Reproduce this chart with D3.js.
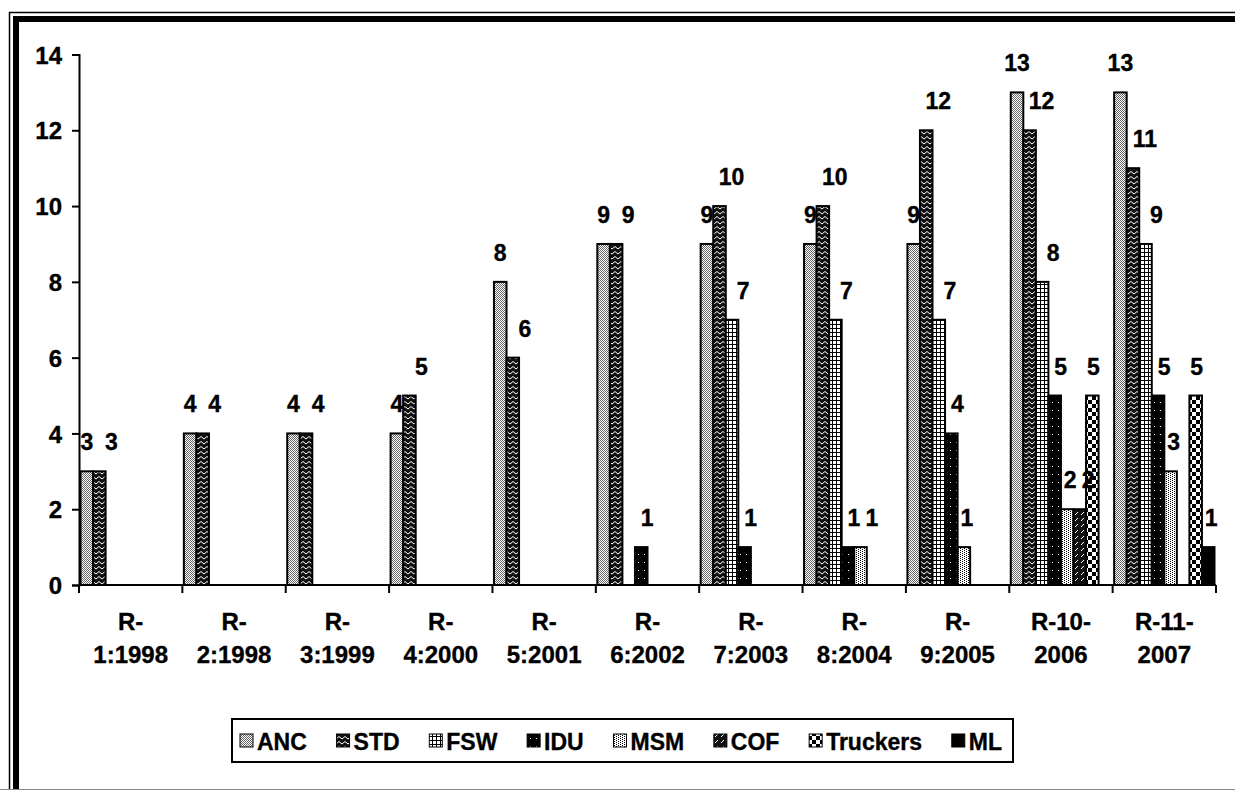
<!DOCTYPE html>
<html><head><meta charset="utf-8">
<script src="https://cdn.jsdelivr.net/npm/d3@7"></script>
<style>
html,body{margin:0;padding:0;background:#fff;}
svg text{font-family:"Liberation Sans",Arial,sans-serif;font-weight:bold;fill:#000;stroke:#000;stroke-width:0.35px;}
</style></head>
<body>
<svg id="chart" width="1235" height="790"></svg>
<script>
// ---- data ----
const categories = ["R-1:1998","R-2:1998","R-3:1999","R-4:2000","R-5:2001","R-6:2002","R-7:2003","R-8:2004","R-9:2005","R-10-2006","R-11-2007"];
const categoryLines = [["R-","1:1998"],["R-","2:1998"],["R-","3:1999"],["R-","4:2000"],["R-","5:2001"],["R-","6:2002"],["R-","7:2003"],["R-","8:2004"],["R-","9:2005"],["R-10-","2006"],["R-11-","2007"]];
const seriesNames = ["ANC","STD","FSW","IDU","MSM","COF","Truckers","ML"];
const ANC      = [3,4,4,4,8,9,9,9,9,13,13];
const STD      = [3,4,4,5,6,9,10,10,12,12,11];
const FSW      = [0,0,0,0,0,0,7,7,7,8,9];
const IDU      = [0,0,0,0,0,1,1,1,4,5,5];
const MSM      = [0,0,0,0,0,0,0,1,1,2,3];
const COF      = [0,0,0,0,0,0,0,0,0,2,0];
const Truckers = [0,0,0,0,0,0,0,0,0,5,5];
const ML       = [0,0,0,0,0,0,0,0,0,0,1];
const yTicks = [0,2,4,6,8,10,12,14];

const seriesValues = {ANC, STD, FSW, IDU, MSM, COF, Truckers, ML};

// ---- layout / style ----
const labelShift = {ANC:0, STD:12, FSW:11, IDU:6, MSM:3, COF:2, Truckers:1, ML:3};

const svg = d3.select("#chart");
const defs = svg.append("defs");

function pat(id, w, h, bg, draw){
  const p = defs.append("pattern").attr("id", id).attr("patternUnits","userSpaceOnUse")
    .attr("width", w).attr("height", h);
  p.append("rect").attr("width", w).attr("height", h).attr("fill", bg);
  draw(p);
}
function px(p, pts, color){
  pts.forEach(([x,y,w=1,h=1]) => p.append("rect").attr("x",x).attr("y",y).attr("width",w).attr("height",h).attr("fill",color).attr("shape-rendering","crispEdges"));
}
pat("p-ANC", 2, 2, "#fff", p => px(p, [[0,0],[1,1]], "#666"));
pat("p-STD", 6, 5, "#111", p => p.append("path").attr("d","M0,4 L3,1.5 L6,4").attr("stroke","#fff").attr("stroke-width",1).attr("fill","none"));
pat("p-FSW", 4, 4, "#fff", p => px(p, [[0,0,4,1],[0,0,1,4]], "#000"));
pat("p-IDU", 6, 8, "#000", p => px(p, [[2,2]], "#fff"));
pat("p-MSM", 4, 4, "#fff", p => px(p, [[0,0],[2,1],[0,2],[2,3]], "#000"));
pat("p-COF", 6, 6, "#111", p => p.append("path").attr("d","M1,5 L4,2").attr("stroke","#fff").attr("stroke-width",1));
pat("p-Truckers", 8, 8, "#fff", p => px(p, [[0,0,4,4],[4,4,4,4]], "#000"));
pat("p-ML", 4, 4, "#000", p => {});

// ---- frame ----
svg.append("path").attr("d","M9.5,790 L9.5,12.5 L1240,12.5").attr("fill","none").attr("stroke","#000").attr("stroke-width",1.5);
svg.append("path").attr("d","M16,790 L16,19 L1240,19").attr("fill","none").attr("stroke","#000").attr("stroke-width",6);
svg.append("line").attr("x1",0).attr("x2",1235).attr("y1",789.5).attr("y2",789.5).attr("stroke","#888").attr("stroke-width",1);

// ---- scales ----
const plotL = 79, plotR = 1216, plotT = 54.5, plotB = 585;
const x = d3.scaleBand().domain(categories).range([plotL, plotR]).paddingInner(0).paddingOuter(0);
const xs = d3.scaleBand().domain(seriesNames).range([0, x.bandwidth()]).paddingInner(0).paddingOuter(0.12);
const y = d3.scaleLinear().domain([0,14]).range([plotB, plotT]);

// ---- bars ----
const g = svg.append("g");
const rows = [];
categories.forEach((c,i) => seriesNames.forEach(s => rows.push({c, s, v: seriesValues[s][i]})));
const shown = rows.filter(d => d.v > 0);
g.selectAll("rect.bar").data(shown).join("rect")
  .attr("class","bar")
  .attr("x", d => x(d.c) + xs(d.s))
  .attr("y", d => y(d.v))
  .attr("width", xs.bandwidth())
  .attr("height", d => y(0) - y(d.v))
  .attr("fill", d => `url(#p-${d.s})`)
  .attr("stroke","#000").attr("stroke-width",2);

// label positions with simple collision avoidance inside a group
shown.forEach(d => {
  d.lx = x(d.c) + xs(d.s) + xs.bandwidth()/2 + labelShift[d.s];
  d.ly = y(d.v) - 21;
});
categories.forEach(c => {
  const grp = shown.filter(d => d.c === c);
  for (let i = 1; i < grp.length; i++) {
    const a = grp[i-1], b = grp[i];
    if (Math.abs(b.ly - a.ly) < 18 && b.lx - a.lx < 18) b.lx = a.lx + 18;
  }
});
g.selectAll("text.lbl").data(shown).join("text")
  .attr("class","lbl")
  .attr("x", d => d.lx)
  .attr("y", d => d.ly)
  .attr("text-anchor","middle")
  .style("font-size","23px")
  .text(d => d.v);

// ---- y axis ----
const ya = svg.append("g").attr("transform",`translate(${plotL},0)`)
  .call(d3.axisLeft(y).tickValues(yTicks).tickSize(7).tickPadding(10).tickFormat(d3.format("d")));
ya.select(".domain").attr("stroke","#000").attr("stroke-width",2);
ya.selectAll(".tick line").attr("stroke","#000").attr("stroke-width",2);
ya.selectAll(".tick text").style("font-size","24px").attr("dy","0.36em").attr("font-family",null);

// ---- x axis ----
const xa = svg.append("g").attr("transform",`translate(0,${plotB})`)
  .call(d3.axisBottom(x).tickSize(0).tickFormat(""));
xa.select(".domain").attr("stroke","#000").attr("stroke-width",2).attr("d",`M${plotL},0H${plotR}`);
const bounds = categories.map(c => x(c)).concat([plotR]);
xa.selectAll("line.bt").data(bounds).join("line").attr("class","bt")
  .attr("x1", d => d).attr("x2", d => d).attr("y1",0).attr("y2",8)
  .attr("stroke","#000").attr("stroke-width",2);
xa.selectAll("text.xl").data(categories).join("text").attr("class","xl")
  .attr("text-anchor","middle").style("font-size","24px")
  .each(function(c, i){
    const t = d3.select(this);
    categoryLines[i].forEach((ln, k) => t.append("tspan")
      .attr("x", x(c) + x.bandwidth()/2).attr("y", 45 + k*33).text(ln));
  });

// ---- legend ----
const lg = svg.append("g");
lg.append("rect").attr("x",232).attr("y",719).attr("width",781).attr("height",43)
  .attr("fill","#fff").attr("stroke","#000").attr("stroke-width",2);
const legStart = 240, legEnd = 1002, sw = 13, swGap = 4;
const items = seriesNames.map(s => {
  const t = lg.append("text").attr("y",750).style("font-size","23px").text(s);
  return {s, t, w: t.node().getComputedTextLength()};
});
const totalW = d3.sum(items, d => sw + swGap + d.w);
const gap = (legEnd - legStart - totalW) / (items.length - 1);
let cx = legStart;
items.forEach(d => {
  lg.append("rect").attr("x",cx).attr("y",734).attr("width",sw).attr("height",sw)
    .attr("fill",`url(#p-${d.s})`).attr("stroke","#000").attr("stroke-width",1);
  d.t.attr("x", cx + sw + swGap);
  cx += sw + swGap + d.w + gap;
});
</script>
</body></html>
